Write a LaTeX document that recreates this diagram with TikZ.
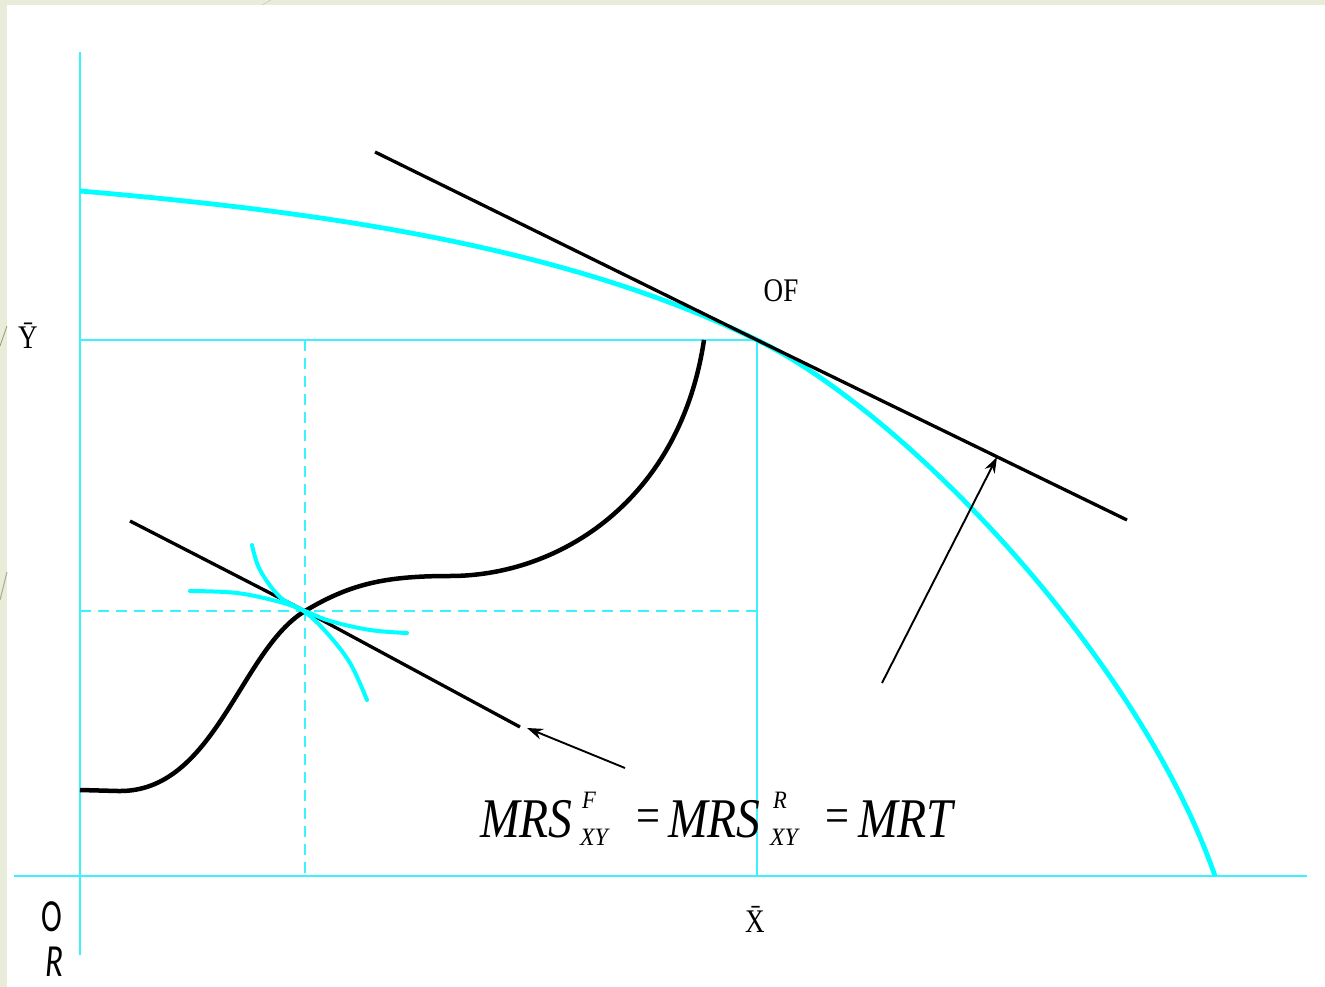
\documentclass[tikz,border=0pt]{standalone}
\usepackage{fontspec}
\setmainfont{Liberation Serif}
\newfontfamily\calib{Carlito}
\usetikzlibrary{arrows.meta}
\definecolor{bordercol}{HTML}{E9ECD8}
\definecolor{decocol}{HTML}{9A9478}
\definecolor{cy}{HTML}{00FFFF}
\definecolor{axcy}{HTML}{3CF2FF}
\newcommand\cond[2][0.82]{\scalebox{#1}[1]{#2}}
\begin{document}
\begin{tikzpicture}[x=1pt,y=-1pt,
  axis/.style={axcy, line width=2pt},
  dguide/.style={axcy, line width=1.7pt, dash pattern=on 11pt off 7pt},
  ppf/.style={cy, line width=4.8pt},
  icurve/.style={cy, line width=4pt, line cap=round},
  tline/.style={black, line width=3.3pt},
  scurve/.style={black, line width=4.5pt},
  arr/.style={black, line width=1.9pt, -{Stealth[length=16pt,width=11pt]}},
  lbl/.style={font=\fontsize{33}{38}\selectfont, inner sep=0pt},
  olbl/.style={font=\calib\fontsize{46}{50}\selectfont, inner sep=0pt},
  fbig/.style={font=\itshape\fontsize{56}{60}\selectfont, inner sep=0pt, anchor=base west},
  fsmall/.style={font=\itshape\fontsize{25}{28}\selectfont, inner sep=0pt, anchor=base west},
  feq/.style={font=\fontsize{50}{56}\selectfont, inner sep=0pt}
]
\useasboundingbox (0,0) rectangle (1325,987);
% slide background
\fill[bordercol] (0,0) rectangle (1325,987);
\fill[white] (7,5) rectangle (1325,987);
\draw[decocol, line width=0.8pt] (0,346) -- (7,326);
\draw[decocol!80, line width=1pt] (0,600) -- (7,572);
\draw[decocol!50, line width=0.6pt] (262,5) -- (271,0);

% key points
\coordinate (OR) at (80,876);
\coordinate (OF) at (757,340);
\coordinate (E) at (305,611);
\coordinate (yaxTop) at (80,52);
\coordinate (yaxBot) at (80,955);
\coordinate (xaxL) at (14,876);
\coordinate (xaxR) at (1307,876);
\coordinate (Ybar) at (80,340);
\coordinate (Xbar) at (757,876);
\coordinate (Ey) at (80,611);
\coordinate (Ex) at (305,876);
\coordinate (Etop) at (305,340);
\coordinate (Eright) at (757,611);
\coordinate (ppfTop) at (80,191);
\coordinate (ppfEnd) at (1215,876);

% axes and guides
\draw[axis] (yaxTop) -- (yaxBot);
\draw[axis] (xaxL) -- (xaxR);
\draw[axis] (Ybar) -- (OF) -- (Xbar);
\draw[dguide] (Etop) -- (Ex);
\draw[dguide] (Ey) -- (Eright);

% production possibility frontier
\draw[ppf] (ppfTop) .. controls (300,210) and (557,242) .. (OF)
  .. controls (907,413) and (1140,660) .. (ppfEnd);

% MRT tangent at OF
\coordinate (t1a) at (375,152);
\coordinate (t1b) at (1127,520);
\draw[tline] (t1a) -- (OF) -- (t1b);

% contract curve
\draw[scurve] (80,790) -- (118,791) .. controls (215,793) and (240,650) .. (E)
  .. controls (350,584) and (385,576) .. (450,576)
  .. controls (560,576) and (680,500) .. (704,340);

% MRS tangent at E
\coordinate (t2a) at (130,521);
\coordinate (t2b) at (520,727);
\draw[tline] (t2a) -- (E) -- (t2b);

% indifference curves
\draw[icurve] plot[smooth, tension=0.6] coordinates {(190,591) (237,593) (280,602) (305,611) (330,621) (370,630) (407,633)};
\draw[icurve] plot[smooth, tension=0.6] coordinates {(252,545) (260,570) (280,597) (305,612) (327,633) (350,663) (367,700)};

% arrows
\coordinate (a1s) at (625,768);
\coordinate (a1e) at (527,728);
\draw[arr] (a1s) -- (a1e);
\coordinate (a2s) at (882,683);
\coordinate (a2e) at (997,457);
\draw[arr] (a2s) -- (a2e);

% labels
\node[lbl] (lY) at (28,336) {\cond{\={Y}}};
\node[lbl] (lX) at (755,919) {\cond{\={X}}};
\node[lbl] (lOF) at (781,291) {\cond{OF}};
\node[olbl] (lO) at (52,917) {\cond[0.68]{O}};
\node[olbl] (lR) at (54,962) {\cond[0.72]{\itshape R}};

% formula
\node[fbig] (m1) at (480,837) {\cond[0.85]{MRS}};
\node[fsmall] (s1) at (582,808) {\cond[0.9]{F}};
\node[fsmall] (b1) at (580,845) {\cond[0.95]{XY}};
\node[feq] (e1) at (648,821) {\cond[0.85]{=}};
\node[fbig] (m2) at (668,837) {\cond[0.85]{MRS}};
\node[fsmall] (s2) at (773,808) {\cond[0.9]{R}};
\node[fsmall] (b2) at (770,845) {\cond[0.95]{XY}};
\node[feq] (e2) at (837,821) {\cond[0.85]{=}};
\node[fbig] (m3) at (858,837) {\cond[0.85]{MRT}};
\end{tikzpicture}
\end{document}
